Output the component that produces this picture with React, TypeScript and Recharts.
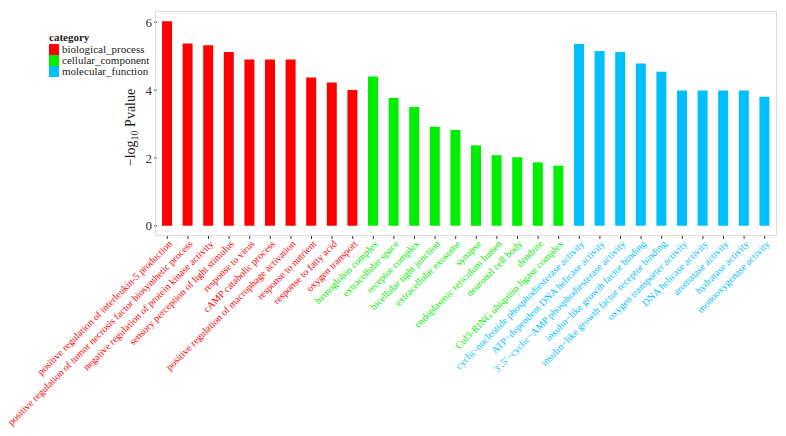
import React from 'react';
import { BarChart, Bar, XAxis, YAxis, Cell } from 'recharts';

const terms: string[] = [
    'positive regulation of interleukin-5 production',
    'positive regulation of tumor necrosis factor biosynthetic process',
    'negative regulation of protein kinase activity',
    'sensory perception of light stimulus',
    'response to virus',
    'cAMP catabolic process',
    'positive regulation of macrophage activation',
    'response to nutrient',
    'response to fatty acid',
    'oxygen transport',
    'hemoglobin complex',
    'extracellular space',
    'receptor complex',
    'bicellular tight junction',
    'extracellular exosome',
    'synapse',
    'endoplasmic reticulum lumen',
    'neuronal cell body',
    'dendrite',
    'Cul3-RING ubiquitin ligase complex',
    'cyclic-nucleotide phosphodiesterase activity',
    'ATP\u2212dependent DNA helicase activity',
    '3\u2032,5\u2032\u2212cyclic\u2212AMP phosphodiesterase activity',
    'insulin\u2212like growth factor binding',
    'insulin\u2212like growth factor receptor binding',
    'oxygen transporter activity',
    'DNA helicase activity',
    'aromatase activity',
    'hydratase activity',
    'monooxygenase activity',
];

const logP: number[] = [
    6.03, 5.37, 5.32, 5.12, 4.9, 4.9, 4.9, 4.37, 4.22, 4.0,
    4.4, 3.77, 3.5, 2.92, 2.82, 2.37, 2.08, 2.02, 1.87, 1.77,
    5.36, 5.15, 5.12, 4.78, 4.54, 3.99, 3.99, 3.99, 3.99, 3.8,
];

const termGroup: number[] = [
    0, 0, 0, 0, 0, 0, 0, 0, 0, 0,
    1, 1, 1, 1, 1, 1, 1, 1, 1, 1,
    2, 2, 2, 2, 2, 2, 2, 2, 2, 2,
];

const categoryNames: string[] = ['biological_process', 'cellular_component', 'molecular_function'];
const categoryColors: string[] = ['#FF0000', '#00EE00', '#00BFFF'];
const yTicks: number[] = [0, 2, 4, 6];

const chartData = terms.map((term, i) => ({ term, pv: logP[i], cat: termGroup[i] }));

const FONT = '"Liberation Serif", serif';

const TermTick = (props: any) => {
    const { x, y, payload } = props;
    const idx = terms.indexOf(payload.value);
    const color = categoryColors[termGroup[idx]];
    return (
        <g transform={`translate(${x + 3},${y + 1})`}>
            <text x={0} y={0} dy="0.35em" textAnchor="end" transform="rotate(-45)"
                  fontSize={10} fontFamily={FONT} fill={color}>
                {payload.value}
            </text>
        </g>
    );
};

const YTitle = (props: any) => {
    const { viewBox } = props;
    const cx = 135;
    const cy = viewBox.y + viewBox.height / 2 + 4;
    return (
        <text x={cx} y={cy} transform={`rotate(-90, ${cx}, ${cy})`} textAnchor="middle"
              fontSize={14} fontFamily={FONT} fill="#222">
            <tspan>{'\u2212log'}</tspan>
            <tspan fontSize={10} dy={3}>10</tspan>
            <tspan dy={-3}>{' Pvalue'}</tspan>
        </text>
    );
};

const CategoryLegend = () => (
    <div style={{ position: 'absolute', left: 49, top: 31, fontFamily: FONT, color: '#222' }}>
        <div style={{ fontWeight: 'bold', fontSize: 11, lineHeight: '12px', marginBottom: 1 }}>category</div>
        {categoryNames.map((name, i) => (
            <div key={name} style={{ display: 'flex', alignItems: 'center', height: 11 }}>
                <span style={{ width: 10, height: 11, background: categoryColors[i], display: 'inline-block', marginRight: 3 }} />
                <span style={{ fontSize: 11, lineHeight: '11px' }}>{name}</span>
            </div>
        ))}
    </div>
);

export default function App() {
    return (
        <div style={{ position: 'absolute', left: 0, top: 0, width: 786, height: 436, background: '#fff' }}>
            <BarChart width={786} height={436} data={chartData}
                      margin={{ top: 11, right: 11, bottom: 0, left: 117 }}>
                <XAxis dataKey="term" interval={0} height={200}
                       axisLine={false} tickLine={{ stroke: '#333' }} tickSize={3}
                       tick={<TermTick />} />
                <YAxis type="number" domain={[-0.3, 6.33]} ticks={yTicks}
                       width={40} axisLine={false} tickLine={{ stroke: '#333' }} tickSize={3}
                       tick={{ fontSize: 13, fontFamily: FONT, fill: '#333' }}
                       label={<YTitle />} />
                <Bar dataKey="pv" barSize={10} fill="#FF0000" isAnimationActive={false}>
                    {chartData.map((entry, index) => (
                        <Cell key={`cell-${index}`} fill={categoryColors[entry.cat]} />
                    ))}
                </Bar>
            </BarChart>
            <div style={{ position: 'absolute', left: 155, top: 11, width: 622, height: 225,
                          boxSizing: 'border-box', border: '1px solid #dcdcdc', pointerEvents: 'none' }} />
            <CategoryLegend />
        </div>
    );
}
